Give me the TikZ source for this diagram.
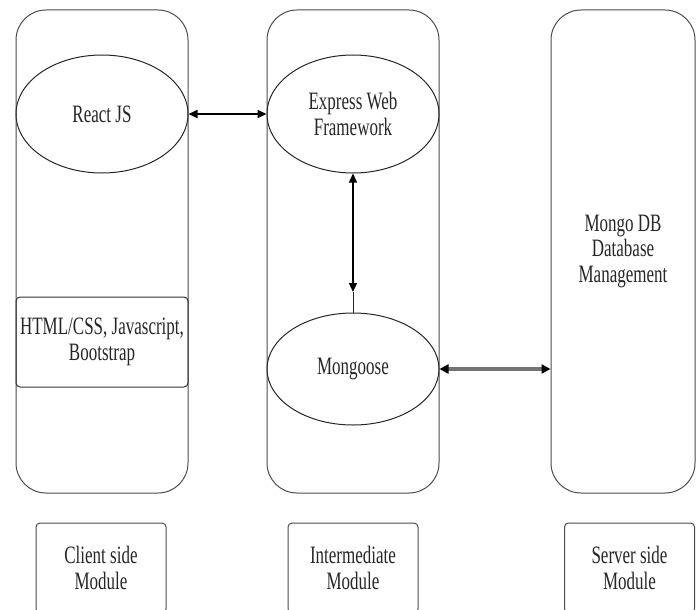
\documentclass[tikz,border=0pt]{standalone}
\usepackage{fontspec}
\setmainfont{Liberation Serif}[FakeStretch=0.68]
\usepackage{tikz}
\usetikzlibrary{arrows.meta}
\usetikzlibrary{shapes.geometric}

\begin{document}
\begin{tikzpicture}[x=1pt,y=-1pt,
    every node/.style={font=\fontsize{25}{25.5}\selectfont,text=black!85},
    colbox/.style={draw=black!70,line width=1pt,rounded corners=30pt,minimum width=172pt,minimum height=483pt,inner sep=0pt,align=center},
    partoval/.style={ellipse,draw=black!85,line width=1pt,minimum width=172pt,inner sep=0pt,align=center},
    partbox/.style={draw=black!80,line width=1pt,rounded corners=4pt,minimum width=172pt,minimum height=90pt,inner sep=0pt,align=center},
    modbox/.style={draw=black!70,line width=1pt,rounded corners=4pt,minimum width=130pt,minimum height=90pt,inner sep=0pt,align=center},
    link/.style={line width=1.6pt,<->,>={Triangle[length=9pt,width=8pt]}}]
                        \useasboundingbox (0,0) rectangle (696,610);
                        \clip (0,0) rectangle (696,610);

                        % Drawing column client
                        \node[colbox] (clientcol) at (102,251.5) {};%
                        % Drawing column intermediate
                        \node[colbox] (midcol) at (353,251.5) {};%
                        % Drawing column server
                        \node[colbox,minimum width=144pt] (servercol) at (623,251.5) {Mongo DB\\Database\\Management};%

                        % Marking parts by ellipse
                        \node[partoval,minimum height=118pt] (react) at (102,114) {React JS};%
                        \node[partoval,minimum height=118pt] (express) at (353,114) {Express Web\\Framework};%
                        \node[partoval,minimum height=112pt] (mongoose) at (353,369) {Mongoose};%

                        % Marking front end by box
                        \node[partbox] (frontend) at (102,342) {HTML/CSS, Javascript,\\Bootstrap};%

                        % Marking modules by box
                        \node[modbox] (clientmod) at (101,568) {Client side\\Module};%
                        \node[modbox] (midmod) at (353,568) {Intermediate\\Module};%
                        \node[modbox] (servermod) at (629.5,568) {Server side\\Module};%

                        % Drawing links
                        \draw[link] (react.east) -- (express.west);%
                        \coordinate (dbtip) at (353,292);
                        \draw[link,line width=1.3pt] (express.south) -- (dbtip);%
                        \draw[line width=1pt,black!85] (dbtip) -- (mongoose.north);%
                        \draw[link,draw=black!55,line width=3.5pt,>={Triangle[length=9pt,width=9pt,color=black]}] (mongoose.east) -- (servercol.west |- mongoose.east);%
\end{tikzpicture}
\end{document}
